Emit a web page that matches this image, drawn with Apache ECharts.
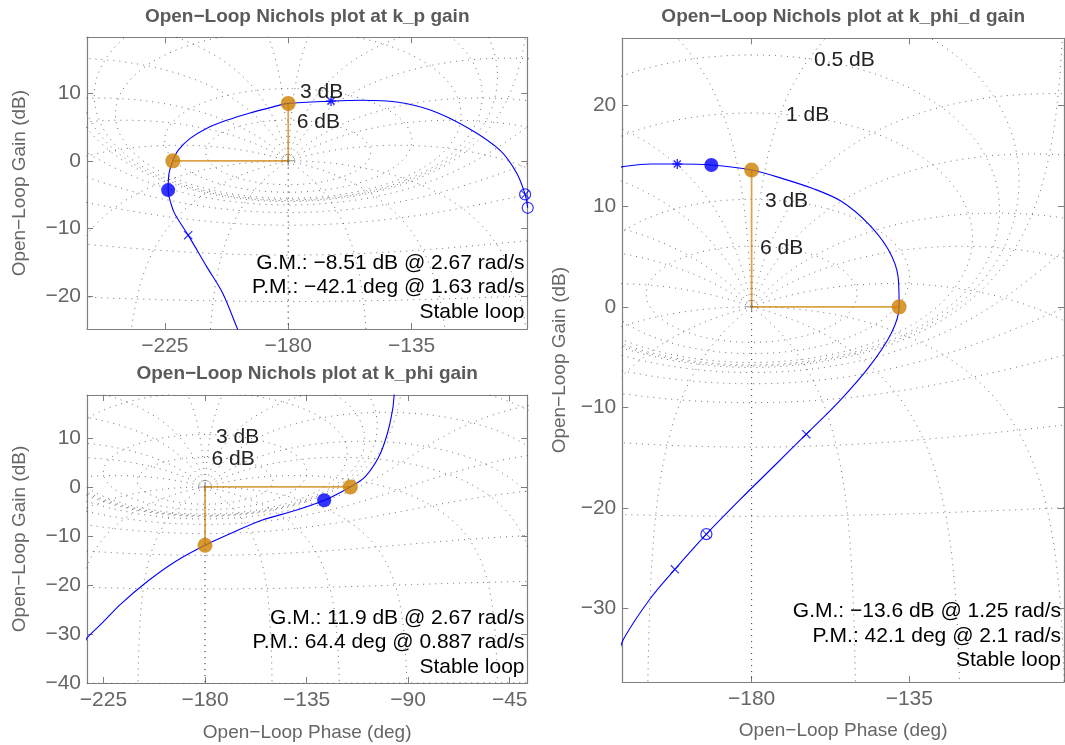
<!DOCTYPE html>
<html><head><meta charset="utf-8">
<script src="https://cdn.jsdelivr.net/npm/echarts@6/dist/echarts.min.js"></script>
<style>html,body{margin:0;padding:0;background:#fff}#c{width:1065px;height:745px}</style>
</head><body><div id="c"></div><script>
// ---------------- DATA ----------------
// Panel 1: k_p
const kpPhase = [-196.0, -198.6, -203.9, -209.7, -216.5, -220.0, -222.0, -223.8, -223.5, -222.1, -220.1, -215.9, -209.8, -202.5, -194.0, -185.5, -180.0, -164.4, -153.1, -140.5, -127.9, -114.1, -102.8, -96.6, -93.6, -92.65];
const kpGain  = [-27.5, -24.8, -19.6, -15.7, -11.0, -8.8, -7.3, -4.33, -1.9, 0.0, 1.58, 3.3, 4.8, 6.0, 7.1, 8.0, 8.51, 8.85, 8.98, 8.73, 7.5, 4.8, 1.58, -1.86, -4.97, -6.95];
const kpGM = [-180, 8.51];
const kpPM = [-222.1, 0];
const kpBlueDot = [[-223.8, -4.33]];
const kpStar = [[-164.4, 8.85]];
const kpCross = [[-216.5, -11.0]];
const kpOtimes = [[-93.6, -4.97]];
const kpCircle = [[-92.65, -6.95]];
const kpInfo = ['G.M.: \u22128.51 dB @ 2.67 rad/s', 'P.M.: \u221242.1 deg @ 1.63 rad/s', 'Stable loop'];
const kpXTicks = [-225, -180, -135];
const kpYTicks = [-20, -10, 0, 10];

// Panel 2: k_phi
const kphiPhase = [-233.0, -232.1, -225.2, -217.6, -205.3, -193.1, -180.0, -167.2, -154.9, -139.7, -127.2, -115.6, -109.1, -103.0, -99.2, -96.9, -96.2, -95.8];
const kphiGain  = [-31.5, -30.7, -27.6, -24.0, -19.2, -15.2, -11.9, -9.2, -6.8, -4.77, -2.72, 0.0, 2.05, 6.13, 10.9, 15.7, 18.75, 21.0];
const kphiGM = [-180, -11.9];
const kphiPM = [-115.6, 0];
const kphiBlueDot = [[-127.2, -2.72]];
const kphiInfo = ['G.M.: 11.9 dB @ 2.67 rad/s', 'P.M.: 64.4 deg @ 0.887 rad/s', 'Stable loop'];
const kphiXTicks = [-225, -180, -135, -90, -45];
const kphiYTicks = [-40, -30, -20, -10, 0, 10];

// Panel 3: k_phi_d
const kphidPhase = [-218.0, -216.8, -208.9, -201.2, -191.5, -180.0, -171.6, -162.0, -154.4, -146.8, -141.0, -138.2, -137.9, -140.1, -146.3, -155.0, -164.4, -173.5, -183.1, -192.9, -201.9, -208.9, -216.5, -218.0];
const kphidGain  = [13.8, 13.94, 14.2, 14.2, 14.1, 13.6, 12.8, 11.7, 10.5, 8.3, 5.7, 3.0, 0.0, -2.6, -5.9, -9.4, -12.66, -15.8, -19.1, -22.6, -26.1, -29.0, -33.0, -34.6];
const kphidGM = [-180, 13.6];
const kphidPM = [-137.9, 0];
const kphidBlueDot = [[-191.5, 14.1]];
const kphidStar = [[-201.2, 14.2]];
const kphidCross = [[-164.4, -12.66], [-201.9, -26.1]];
const kphidOtimes = [[-192.9, -22.6]];
const kphidInfo = ['G.M.: \u221213.6 dB @ 1.25 rad/s', 'P.M.: 42.1 deg @ 2.1 rad/s', 'Stable loop'];
const kphidXTicks = [-180, -135];
const kphidYTicks = [-30, -20, -10, 0, 10, 20];

// Nichols grid levels (closed-loop gain in dB, closed-loop phase in deg)
const closedLoopGainsDb = [6, 3, 1, 0.5, 0.25, 0, -1, -3, -6, -12, -20, -40];
const closedLoopPhasesDeg = [-1, -5, -10, -20, -30, -50, -90, -120, -150, -180];

// ---------------- NICHOLS GRID GEOMETRY ----------------
function gainContour(mdb) {
  const M = Math.pow(10, mdb / 20), segs = [];
  let seg = [], prev = null;
  const n = 1800;
  for (let i = 0; i <= n; i++) {
    const th = i / n * 2 * Math.PI;
    const tr = M * Math.cos(th), ti = M * Math.sin(th);
    const dr = 1 - tr, di = -ti, den = dr * dr + di * di;
    if (den < 1e-10) { if (seg.length > 1) segs.push(seg); seg = []; prev = null; continue; }
    const lr = (tr * dr + ti * di) / den, li = (ti * dr - tr * di) / den;
    let ph = Math.atan2(li, lr) * 180 / Math.PI; if (ph > 0) ph -= 360;
    const g = 10 * Math.log10(lr * lr + li * li);
    if (g > 60) { if (seg.length > 1) segs.push(seg); seg = []; prev = null; continue; }
    if (prev !== null && Math.abs(ph - prev) > 90) { if (seg.length > 1) segs.push(seg); seg = []; }
    seg.push([ph, g]); prev = ph;
  }
  if (seg.length > 1) segs.push(seg);
  return segs;
}
function phaseContour(N) {
  if (N === -180) { const s = []; for (let g = -90; g <= 0; g += 1) s.push([-180, g]); return [s, s.slice()]; }
  const sN = Math.sin(N * Math.PI / 180);
  const phis = [];
  const K = Math.floor((N + 180 - 0.5) / 0.25);
  for (let k = 0; k <= K; k++) phis.push(-180 + k * 0.25);
  [0.4, 0.25, 0.15, 0.1, 0.05, 0.02, 0.01, 0.004, 0.001].forEach(d => phis.push(N - d));
  const a = [], b = [];
  for (const p of phis) {
    const g = Math.sin((p - N) * Math.PI / 180) / sN;
    if (g <= 0) continue;
    const gd = 20 * Math.log10(g);
    a.push([p, gd]); b.push([-360 - p, gd]);
  }
  return [a, b];
}
const gridSegments = [];
closedLoopGainsDb.forEach(m => gainContour(m).forEach(s => gridSegments.push(s)));
closedLoopPhasesDeg.forEach(n => phaseContour(n).forEach(s => gridSegments.push(s)));

// ---------------- LAYOUT ----------------
const FAM = "'Liberation Sans', Arial, Helvetica, sans-serif";
const SYM_STAR = 'path://M8.6,0h2.8v20h-2.8z M0,8.6h20v2.8h-20z M1.9,4L4,1.9L18.1,16L16,18.1z M16,1.9L18.1,4L4,18.1L1.9,16z';
const SYM_X = 'path://M2.2,3.6L3.6,2.2L17.8,16.4L16.4,17.8z M16.4,2.2L17.8,3.6L3.6,17.8L2.2,16.4z';
const SYM_PLUS = 'path://M9,0h2v20h-2z M0,9h20v2h-20z';
const BLUE = '#0000ff', ORANGE = '#cc8000', AXC = '#7f7f7f', TXC = '#666666';

const panels = [
  { title: 'Open\u2212Loop Nichols plot at k_p gain', titlePos: [307.2, 17],
    grid: { left: 87, top: 37.3, width: 440.3, height: 291.7 },
    xr: [-253.4, -92.8], yr: [-24.9, 18.3], xt: kpXTicks, yt: kpYTicks,
    xName: '', yNameGap: 58,
    phase: kpPhase, gain: kpGain, gm: kpGM, pm: kpPM,
    blue: kpBlueDot, star: kpStar, cross: kpCross, otimes: kpOtimes, circle: kpCircle,
    info: kpInfo, infoPos: [524.5, 263],
    gridLabels: [['3 dB', -175.7, 10.2], ['6 dB', -176.9, 5.77]] },
  { title: 'Open\u2212Loop Nichols plot at k_phi gain', titlePos: [307.2, 374],
    grid: { left: 87, top: 395, width: 440.3, height: 288 },
    xr: [-232.3, -37.2], yr: [-40, 18.75], xt: kphiXTicks, yt: kphiYTicks,
    xName: 'Open\u2212Loop Phase (deg)', xNameGap: 40, yNameGap: 58,
    phase: kphiPhase, gain: kphiGain, gm: kphiGM, pm: kphiPM,
    blue: kphiBlueDot, star: [], cross: [], otimes: [], circle: [],
    info: kphiInfo, infoPos: [524.5, 618],
    gridLabels: [['3 dB', -175.1, 10.2], ['6 dB', -177.1, 5.66]] },
  { title: 'Open\u2212Loop Nichols plot at k_phi_d gain', titlePos: [843.2, 17],
    grid: { left: 622.3, top: 38.3, width: 441.7, height: 645 },
    xr: [-216.9, -90.85], yr: [-37.3, 26.7], xt: kphidXTicks, yt: kphidYTicks,
    xName: 'Open\u2212Loop Phase (deg)', xNameGap: 39, yNameGap: 53,
    phase: kphidPhase, gain: kphidGain, gm: kphidGM, pm: kphidPM,
    blue: kphidBlueDot, star: kphidStar, cross: kphidCross, otimes: kphidOtimes, circle: [],
    info: kphidInfo, infoPos: [1061, 611.7],
    gridLabels: [['0.5 dB', -162.2, 24.5], ['1 dB', -170.2, 19.06], ['3 dB', -176.2, 10.47], ['6 dB', -177.6, 5.85]] }
];

const fmt = v => (v < 0 ? '\u2212' : '') + Math.abs(v);
const grids = [], xAxis = [], yAxis = [], series = [], graphic = [];

panels.forEach((p, i) => {
  grids.push(Object.assign({ show: false, containLabel: false }, p.grid));
  const line = { show: true, onZero: false, lineStyle: { color: AXC, width: 1.2 } };
  const tick = vals => ({ show: true, inside: true, length: 6, customValues: vals, lineStyle: { color: AXC, width: 1 } });
  xAxis.push({ gridIndex: i, type: 'value', position: 'bottom', min: p.xr[0], max: p.xr[1],
    axisLine: line, axisTick: tick(p.xt), splitLine: { show: false },
    axisLabel: { customValues: p.xt, formatter: fmt, fontSize: 21, color: TXC, margin: 7, fontFamily: FAM },
    name: p.xName, nameLocation: 'middle', nameGap: p.xNameGap || 40,
    nameTextStyle: { fontSize: 19, color: TXC, fontFamily: FAM } });
  xAxis.push({ gridIndex: i, type: 'value', position: 'top', min: p.xr[0], max: p.xr[1],
    axisLine: line, axisTick: tick(p.xt), splitLine: { show: false }, axisLabel: { show: false } });
  yAxis.push({ gridIndex: i, type: 'value', position: 'left', min: p.yr[0], max: p.yr[1],
    axisLine: line, axisTick: tick(p.yt), splitLine: { show: false },
    axisLabel: { customValues: p.yt, formatter: fmt, fontSize: 21, color: TXC, margin: 6, fontFamily: FAM },
    name: 'Open\u2212Loop Gain (dB)', nameLocation: 'middle', nameGap: p.yNameGap, nameRotate: 90,
    nameTextStyle: { fontSize: 19, color: TXC, fontFamily: FAM } });
  yAxis.push({ gridIndex: i, type: 'value', position: 'right', min: p.yr[0], max: p.yr[1],
    axisLine: line, axisTick: tick(p.yt), splitLine: { show: false }, axisLabel: { show: false } });

  const xi = 2 * i, yi = 2 * i;
  // Nichols grid (dotted)
  gridSegments.forEach(seg => series.push({ type: 'line', xAxisIndex: xi, yAxisIndex: yi, data: seg,
    showSymbol: false, silent: true, clip: true, z: 1,
    lineStyle: { color: '#333333', width: 1, type: [1, 5], opacity: 0.7 } }));
  // critical point marker
  series.push({ type: 'scatter', xAxisIndex: xi, yAxisIndex: yi, data: [[-180, 0]], symbol: SYM_PLUS,
    symbolSize: [13, 10], itemStyle: { color: '#7a7a7a' }, silent: true, z: 2 });
  // margin lines
  series.push({ type: 'line', xAxisIndex: xi, yAxisIndex: yi, data: [p.pm, [-180, 0], p.gm],
    showSymbol: false, silent: true, z: 3, lineStyle: { color: ORANGE, width: 1.7, opacity: 0.72 } });
  // open loop curve
  series.push({ type: 'line', xAxisIndex: xi, yAxisIndex: yi,
    data: p.phase.map((x, k) => [x, p.gain[k]]), smooth: 0.3, showSymbol: false, silent: true, clip: true, z: 4,
    lineStyle: { color: BLUE, width: 1.1 } });
  // markers
  const sc = (data, symbol, size, style) => series.push({ type: 'scatter', xAxisIndex: xi, yAxisIndex: yi,
    data, symbol, symbolSize: size, itemStyle: style, clip: false, silent: true, z: 5 });
  sc([p.pm, p.gm], 'circle', 15, { color: ORANGE });
  sc(p.blue, 'circle', 14, { color: BLUE });
  if (p.star.length) sc(p.star, SYM_STAR, 10, { color: BLUE });
  if (p.cross.length) sc(p.cross, SYM_X, 9, { color: BLUE });
  if (p.otimes.length) { sc(p.otimes, 'circle', 11, { color: 'rgba(0,0,0,0)', borderColor: BLUE, borderWidth: 1.2 });
    sc(p.otimes, SYM_X, 8, { color: BLUE }); }
  if (p.circle.length) sc(p.circle, 'circle', 11, { color: 'rgba(0,0,0,0)', borderColor: BLUE, borderWidth: 1.2 });
  // grid labels
  series.push({ type: 'scatter', xAxisIndex: xi, yAxisIndex: yi, symbolSize: 0, silent: true, z: 6, clip: false,
    data: p.gridLabels.map(l => ({ value: [l[1], l[2]], label: { formatter: l[0] } })),
    label: { show: true, position: 'right', distance: 0, fontSize: 21, color: '#222222', opacity: 1, fontFamily: FAM } });
  // title + info text
  graphic.push({ type: 'text', x: p.titlePos[0], y: p.titlePos[1], silent: true,
    style: { text: p.title, align: 'center', verticalAlign: 'middle', font: 'bold 19px ' + FAM, fill: '#5a5a5a' } });
  p.info.forEach((t, k) => graphic.push({ type: 'text', x: p.infoPos[0], y: p.infoPos[1] + k * 24.5, silent: true, z: 10,
    style: { text: t, align: 'right', verticalAlign: 'middle', font: '21px ' + FAM, fill: '#000' } }));
});

const chart = echarts.init(document.getElementById('c'), null, { renderer: 'canvas' });
chart.setOption({ animation: false, backgroundColor: '#fff', textStyle: { fontFamily: FAM },
  grid: grids, xAxis, yAxis, series, graphic });
</script></body></html>
